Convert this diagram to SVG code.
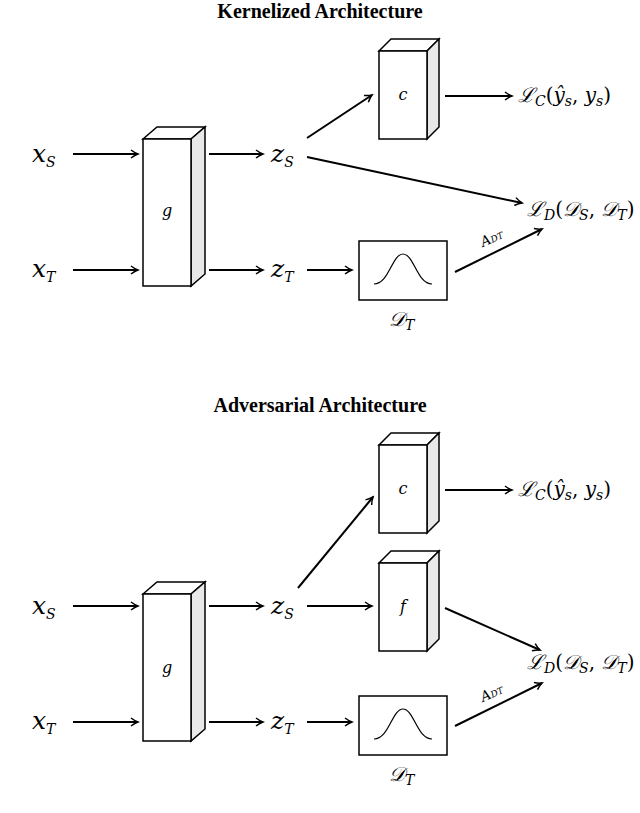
<svg xmlns="http://www.w3.org/2000/svg" width="640" height="813" viewBox="0 0 640 813">
<style>
.t{font-family:"Liberation Serif",serif;font-weight:bold;font-size:20px;text-anchor:middle}
.m{font-family:"DejaVu Serif","Liberation Serif",serif;font-style:italic;font-size:20px}
.x{font-family:"DejaVu Serif","Liberation Serif",serif;font-style:italic;font-size:25px}
.s{font-family:"DejaVu Serif","Liberation Serif",serif;font-style:italic;font-size:14px}
.b{font-family:"DejaVu Serif","Liberation Serif",serif;font-style:italic;font-size:16px;text-anchor:middle}
.l{stroke:#000;stroke-width:2;fill:none;marker-end:url(#a)}
.f{fill:#fff;stroke:#000;stroke-width:1.5}
.d{fill:#e8e8e8;stroke:#000;stroke-width:1.5}
</style>
<defs>
<marker id="a" markerWidth="10" markerHeight="10" refX="8" refY="5" orient="auto" markerUnits="userSpaceOnUse"><path d="M1,1 Q5,4 8,5 Q5,6 1,9" fill="none" stroke="#000" stroke-width="1.5"/></marker>
<symbol id="gs" overflow="visible"><path d="M15,43 C30,43 33,13 44,13 C55,13 58,43 73,43" fill="none" stroke="#000" stroke-width="1.2"/></symbol>
</defs>
<text class="t" x="320" y="18">Kernelized Architecture</text>
<text class="t" x="320" y="412">Adversarial Architecture</text>
<g id="top-g"><path class="f" d="M143,139 L157,127 L205,127 L191,139 Z"/><path class="d" d="M191,139 L205,127 L205,274 L191,286 Z"/><rect class="f" x="143" y="139" width="48" height="147"/><text class="b" x="167" y="216">g</text></g>
<g id="top-c"><path class="f" d="M379,51 L391,39 L439,39 L427,51 Z"/><path class="d" d="M427,51 L439,39 L439,127 L427,139 Z"/><rect class="f" x="379" y="51" width="48" height="88"/><text class="b" x="403" y="100">c</text></g>
<g id="top-gauss"><rect class="f" x="359" y="241" width="88" height="59"/><use href="#gs" x="359" y="241"/><text class="m" x="389" y="326">𝒟<tspan class="s" dy="4">T</tspan></text></g>
<g id="top-labels">
<text class="x" x="32" y="162">x<tspan class="s" dy="5">S</tspan></text>
<text class="x" x="32" y="277">x<tspan class="s" dy="5">T</tspan></text>
<text class="x" x="271" y="162">z<tspan class="s" dy="5">S</tspan></text>
<text class="x" x="271" y="277">z<tspan class="s" dy="5">T</tspan></text>
<text class="m" x="518" y="102">ℒ<tspan class="s" dy="4">C</tspan><tspan dy="-4" font-style="normal">(</tspan>ŷ<tspan class="s" dy="4">s</tspan><tspan dy="-4" font-style="normal">, </tspan>y<tspan class="s" dy="4">s</tspan><tspan dy="-4" font-style="normal">)</tspan></text>
<text class="m" x="527" y="216">ℒ<tspan class="s" dy="4">D</tspan><tspan dy="-4" font-style="normal">(</tspan>𝒟<tspan class="s" dy="4">S</tspan><tspan dy="-4" font-style="normal">, </tspan>𝒟<tspan class="s" dy="4">T</tspan><tspan dy="-4" font-style="normal">)</tspan></text>
<text class="s" font-size="11" x="0" y="0" transform="translate(483,247) rotate(-24)">A<tspan font-size="9">DT</tspan></text>
</g>
<g id="bot-g"><path class="f" d="M143,594 L157,582 L205,582 L191,594 Z"/><path class="d" d="M191,594 L205,582 L205,729 L191,741 Z"/><rect class="f" x="143" y="594" width="48" height="147"/><text class="b" x="167" y="673">g</text></g>
<g id="bot-c"><path class="f" d="M379,445 L391,433 L439,433 L427,445 Z"/><path class="d" d="M427,445 L439,433 L439,521 L427,533 Z"/><rect class="f" x="379" y="445" width="48" height="88"/><text class="b" x="403" y="494">c</text></g>
<g id="bot-f"><path class="f" d="M379,563 L391,551 L439,551 L427,563 Z"/><path class="d" d="M427,563 L439,551 L439,639 L427,651 Z"/><rect class="f" x="379" y="563" width="48" height="88"/><text class="b" x="403" y="612">f</text></g>
<g id="bot-gauss"><rect class="f" x="359" y="696" width="88" height="59"/><use href="#gs" x="359" y="696"/><text class="m" x="389" y="781">𝒟<tspan class="s" dy="4">T</tspan></text></g>
<g id="bot-labels">
<text class="x" x="32" y="614">x<tspan class="s" dy="5">S</tspan></text>
<text class="x" x="32" y="729">x<tspan class="s" dy="5">T</tspan></text>
<text class="x" x="271" y="614">z<tspan class="s" dy="5">S</tspan></text>
<text class="x" x="271" y="729">z<tspan class="s" dy="5">T</tspan></text>
<text class="m" x="518" y="496">ℒ<tspan class="s" dy="4">C</tspan><tspan dy="-4" font-style="normal">(</tspan>ŷ<tspan class="s" dy="4">s</tspan><tspan dy="-4" font-style="normal">, </tspan>y<tspan class="s" dy="4">s</tspan><tspan dy="-4" font-style="normal">)</tspan></text>
<text class="m" x="527" y="669">ℒ<tspan class="s" dy="4">D</tspan><tspan dy="-4" font-style="normal">(</tspan>𝒟<tspan class="s" dy="4">S</tspan><tspan dy="-4" font-style="normal">, </tspan>𝒟<tspan class="s" dy="4">T</tspan><tspan dy="-4" font-style="normal">)</tspan></text>
<text class="s" font-size="11" x="0" y="0" transform="translate(483,702) rotate(-24)">A<tspan font-size="9">DT</tspan></text>
</g>
<g id="connectors">
<path class="l" d="M73,154 H138"/><path class="l" d="M73,270 H138"/>
<path class="l" d="M209,154 H263"/><path class="l" d="M209,270 H263"/>
<path class="l" d="M307,138 L372,95"/><path class="l" d="M445,96 H512"/>
<path class="l" d="M307,157 L522,203"/><path class="l" d="M307,270 H352"/>
<path class="l" d="M455,272 L542,229"/>
<path class="l" d="M73,606 H138"/><path class="l" d="M73,722 H138"/>
<path class="l" d="M209,606 H263"/><path class="l" d="M209,722 H263"/>
<path class="l" d="M298,588 L373,497"/><path class="l" d="M445,490 H512"/>
<path class="l" d="M307,606 H372"/><path class="l" d="M445,608 L540,650"/>
<path class="l" d="M307,722 H352"/><path class="l" d="M455,726 L542,683"/>
</g>
</svg>
